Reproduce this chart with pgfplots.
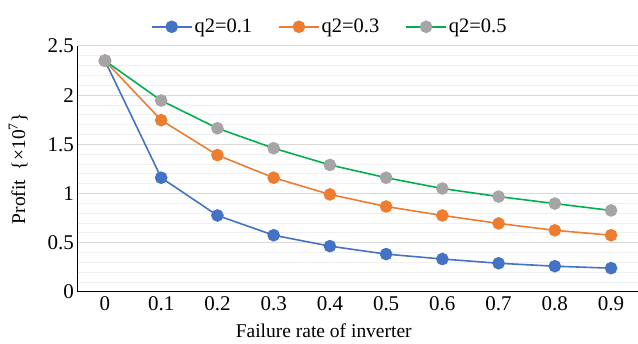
\documentclass[border=0pt]{standalone}
\usepackage{pgfplots}
\pgfplotsset{compat=1.18}
\usepackage{fontspec}
\setmainfont{Liberation Serif}
\definecolor{cblue}{RGB}{68,114,196}
\definecolor{corange}{RGB}{237,125,49}
\definecolor{cgray}{RGB}{165,165,165}
\definecolor{cgreen}{RGB}{0,176,80}
\begin{document}
\fontsize{19bp}{22bp}\selectfont
\begin{tikzpicture}[x=1bp,y=1bp]
\begin{axis}[
  scale only axis,
  width=560bp, height=246bp,
  xmin=-0.048, xmax=0.947,
  ymin=0, ymax=2.5,
  axis x line*=bottom, axis y line*=left,
  axis line style={black, line width=1pt, -},
  xtick={0,0.1,0.2,0.3,0.4,0.5,0.6,0.7,0.8,0.9},
  xticklabels={0,0.1,0.2,0.3,0.4,0.5,0.6,0.7,0.8,0.9},
  ytick={0,0.5,1,1.5,2,2.5},
  yticklabels={0,0.5,1,1.5,2,2.5},
  minor y tick num=4,
  major tick length=0pt, minor tick length=0pt,
  ymajorgrids, yminorgrids,
  major grid style={draw={rgb,255:red,217;green,217;blue,217}, line width=1pt},
  minor grid style={draw={rgb,255:red,240;green,240;blue,240}, line width=0.8pt},
  tick label style={font=\fontsize{21bp}{24bp}\selectfont},
  /pgf/number format/assume math mode=true,
  xticklabel style={yshift=2bp},
  yticklabel style={xshift=2.5bp},
  xlabel={Failure rate of inverter},
  ylabel={Profit\ \ \{×10\textsuperscript{7}\}},
  label style={font=\fontsize{19.5bp}{22bp}\selectfont},
  xlabel style={yshift=0bp, xshift=-34bp},
  ylabel style={yshift=7bp},
  legend columns=3,
  legend style={at={(0.45,1.078)}, anchor=center, draw=none, fill=none,
    font=\fontsize{20.5bp}{23bp}\selectfont,
    /tikz/every even column/.append style={column sep=24bp}},
  legend image code/.code={
    \draw[#1] (0bp,0bp) -- (40bp,0bp);
    \draw[#1, only marks] plot coordinates {(20bp,0bp)};
  },
  every axis plot/.append style={line width=1.6pt, mark=*, mark size=5.5bp},
]
\addplot[color=cblue, mark options={fill=cblue, draw=cblue}] coordinates {
(0,2.35) (0.1,1.16) (0.2,0.776) (0.3,0.575) (0.4,0.464) (0.5,0.383) (0.6,0.333) (0.7,0.29) (0.8,0.26) (0.9,0.24)};
\addlegendentry{q2=0.1}
\addplot[color=corange, mark options={fill=corange, draw=corange}] coordinates {
(0,2.35) (0.1,1.745) (0.2,1.39) (0.3,1.16) (0.4,0.99) (0.5,0.867) (0.6,0.776) (0.7,0.695) (0.8,0.625) (0.9,0.575)};
\addlegendentry{q2=0.3}
\addplot[color=cgreen, mark options={fill=cgray, draw=cgray}] coordinates {
(0,2.35) (0.1,1.945) (0.2,1.663) (0.3,1.46) (0.4,1.29) (0.5,1.16) (0.6,1.05) (0.7,0.968) (0.8,0.897) (0.9,0.827)};
\addlegendentry{q2=0.5}
\coordinate (sw) at (rel axis cs:0,0);
\coordinate (ne) at (rel axis cs:1,1);
\end{axis}
\path (sw) ++(-78bp,-51bp);
\path (ne) ++(0bp,46bp);
\end{tikzpicture}
\end{document}
